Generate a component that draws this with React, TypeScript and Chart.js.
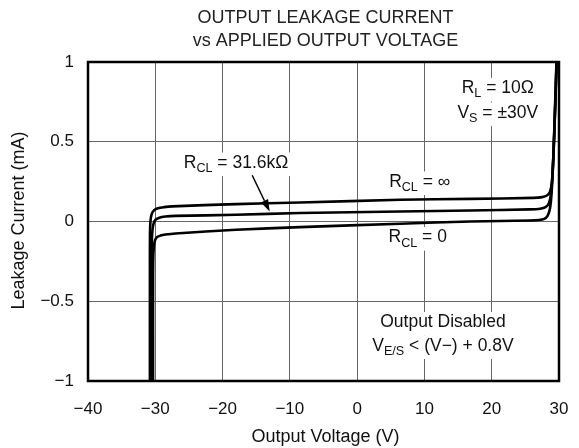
import React, { useEffect, useRef } from "react";
import { Chart, registerables } from "chart.js";

Chart.register(...registerables);

// ---- data ----
const titleLines = ["OUTPUT LEAKAGE CURRENT", "vs APPLIED OUTPUT VOLTAGE"];
const xTitle = "Output Voltage (V)";
const yTitle = "Leakage Current (mA)";

// R_CL = ∞ (top curve)
const vInf = [-30.8, -30.8, -30.79, -30.72, -30.55, -30.2, -29.6, -28.7, -27.5, -18, -8.5, 6.4, 16.8, 26.2, 27.5, 28.2, 28.65, 28.95, 29.2, 29.45, 29.65];
const iInf = [-1, -0.3, -0.08, 0.0, 0.045, 0.07, 0.083, 0.09, 0.095, 0.109, 0.119, 0.136, 0.142, 0.148, 0.153, 0.163, 0.185, 0.25, 0.45, 0.75, 1];

// R_CL = 31.6kΩ (middle curve)
const v316k = [-30.56, -30.56, -30.54, -30.47, -30.3, -30.0, -29.4, -28.5, -27, -18, -8.5, 6.4, 16.8, 25.7, 27.2, 28.0, 28.5, 28.8, 29.05, 29.3, 29.5, 29.65];
const i316k = [-1, -0.4, -0.18, -0.08, -0.02, 0.01, 0.024, 0.031, 0.035, 0.042, 0.053, 0.063, 0.069, 0.076, 0.08, 0.09, 0.115, 0.17, 0.3, 0.55, 0.8, 1];

// R_CL = 0 (bottom curve)
const vZero = [-30.33, -30.33, -30.28, -30.12, -29.8, -29.2, -28.5, -27, -18, -8.5, 6.4, 16.8, 25.7, 27.0, 27.8, 28.3, 28.65, 28.9, 29.15, 29.4, 29.62];
const iZero = [-1, -0.35, -0.2, -0.13, -0.1, -0.088, -0.082, -0.075, -0.052, -0.035, -0.014, 0.0, 0.006, 0.009, 0.016, 0.035, 0.08, 0.18, 0.4, 0.7, 1];

const xTicks = [-40, -30, -20, -10, 0, 10, 20, 30];
const yTicks = [-1, -0.5, 0, 0.5, 1];

type Seg = { t: string; sub?: boolean };
// annotation texts anchored in data units [V, mA]
const notes: { segs: Seg[]; at: [number, number]; bg: boolean }[] = [
  { segs: [{ t: "R" }, { t: "L", sub: true }, { t: " = 10Ω" }], at: [20.9, 0.835], bg: true },
  { segs: [{ t: "V" }, { t: "S", sub: true }, { t: " = ±30V" }], at: [20.9, 0.68], bg: true },
  { segs: [{ t: "R" }, { t: "CL", sub: true }, { t: " = 31.6kΩ" }], at: [-18.0, 0.367], bg: true },
  { segs: [{ t: "R" }, { t: "CL", sub: true }, { t: " = ∞" }], at: [9.3, 0.248], bg: true },
  { segs: [{ t: "R" }, { t: "CL", sub: true }, { t: " = 0" }], at: [9.0, -0.1], bg: true },
  { segs: [{ t: "Output Disabled" }], at: [12.75, -0.633], bg: true },
  { segs: [{ t: "V" }, { t: "E/S", sub: true }, { t: " < (V−) + 0.8V" }], at: [12.75, -0.78], bg: true },
];
const arrowFrom: [number, number] = [-15.6, 0.29];
const arrowTo: [number, number] = [-13.0, 0.062];

const FONT = "Liberation Sans, Arial, Helvetica, sans-serif";
const FS = 17.5; // annotations
const TICK_FS = 17;
const TITLE_FS = 18;

const fmt = (v: number) => (v < 0 ? "\u2212" + String(Math.abs(v)) : String(v));

function measureRich(ctx: CanvasRenderingContext2D, segs: Seg[]) {
  let w = 0;
  for (const s of segs) {
    ctx.font = `${s.sub ? FS * 0.72 : FS}px ${FONT}`;
    w += ctx.measureText(s.t).width;
  }
  return w;
}

function drawRich(ctx: CanvasRenderingContext2D, segs: Seg[], cx: number, cy: number, bg: boolean) {
  const w = measureRich(ctx, segs);
  let x = cx - w / 2;
  if (bg) {
    ctx.fillStyle = "#fff";
    ctx.fillRect(x - 3, cy - FS * 0.6, w + 6, FS * 1.35);
  }
  ctx.fillStyle = "#111";
  ctx.textBaseline = "middle";
  ctx.textAlign = "left";
  for (const s of segs) {
    ctx.font = `${s.sub ? FS * 0.72 : FS}px ${FONT}`;
    ctx.fillText(s.t, x, s.sub ? cy + FS * 0.32 : cy);
    x += ctx.measureText(s.t).width;
  }
}

const pts = (vs: number[], is: number[]) => vs.map((v, k) => ({ x: v, y: is[k] }));

export default function App() {
  const ref = useRef<HTMLCanvasElement>(null);
  useEffect(() => {
    document.body.style.margin = "0";
    const canvas = ref.current!;
    const deco = {
      id: "deco",
      beforeDatasetsDraw(chart: any) {
        const { ctx, scales } = chart;
        const xs = scales.x, ys = scales.y;
        ctx.save();
        for (const n of notes) {
          drawRich(ctx, n.segs, xs.getPixelForValue(n.at[0]), ys.getPixelForValue(n.at[1]), n.bg);
        }
        ctx.restore();
      },
      afterDatasetsDraw(chart: any) {
        const { ctx, scales, chartArea: a } = chart;
        const xs = scales.x, ys = scales.y;
        ctx.save();
        // arrow
        const x1 = xs.getPixelForValue(arrowFrom[0]), y1 = ys.getPixelForValue(arrowFrom[1]);
        const x2 = xs.getPixelForValue(arrowTo[0]), y2 = ys.getPixelForValue(arrowTo[1]);
        const ang = Math.atan2(y2 - y1, x2 - x1);
        const hl = 12, hw = 4;
        ctx.strokeStyle = "#000";
        ctx.lineWidth = 1.5;
        ctx.beginPath();
        ctx.moveTo(x1, y1);
        ctx.lineTo(x2 - Math.cos(ang) * hl, y2 - Math.sin(ang) * hl);
        ctx.stroke();
        ctx.fillStyle = "#000";
        ctx.beginPath();
        ctx.moveTo(x2, y2);
        ctx.lineTo(x2 - Math.cos(ang) * hl - Math.sin(ang) * hw, y2 - Math.sin(ang) * hl + Math.cos(ang) * hw);
        ctx.lineTo(x2 - Math.cos(ang) * hl + Math.sin(ang) * hw, y2 - Math.sin(ang) * hl - Math.cos(ang) * hw);
        ctx.closePath();
        ctx.fill();
        // frame
        ctx.lineWidth = 2.5;
        ctx.strokeRect(a.left, a.top, a.right - a.left, a.bottom - a.top);
        // titles
        ctx.fillStyle = "#222";
        ctx.textAlign = "center";
        ctx.textBaseline = "middle";
        ctx.font = `${TITLE_FS}px ${FONT}`;
        const cx = (a.left + a.right) / 2;
        ctx.fillText(titleLines[0], cx + 2, 18);
        ctx.fillText(titleLines[1], cx + 2, 41);
        ctx.fillStyle = "#111";
        ctx.fillText(xTitle, cx + 2, 437);
        ctx.translate(19, (a.top + a.bottom) / 2 - 1);
        ctx.rotate(-Math.PI / 2);
        ctx.fillText(yTitle, 0, 0);
        ctx.restore();
      },
    };
    const lineDs = (label: string, data: any) => ({
      label,
      data,
      borderColor: "#000",
      borderWidth: 2.6,
      pointRadius: 0,
      tension: 0.3,
      fill: false,
    });
    const chart = new Chart(canvas, {
      type: "scatter",
      data: {
        datasets: [
          lineDs("R_CL = ∞", pts(vInf, iInf)),
          lineDs("R_CL = 31.6kΩ", pts(v316k, i316k)),
          lineDs("R_CL = 0", pts(vZero, iZero)),
        ].map((d) => ({ ...d, showLine: true })),
      },
      options: {
        animation: false,
        responsive: false,
        devicePixelRatio: 1,
        layout: { padding: { top: 62, right: 20, left: 0, bottom: 0 } },
        plugins: { legend: { display: false }, tooltip: { enabled: false }, title: { display: false } },
        scales: {
          x: {
            type: "linear",
            min: -40,
            max: 30,
            afterBuildTicks: (s: any) => { s.ticks = xTicks.map((v) => ({ value: v })); },
            afterFit: (s: any) => { s.height = 67; s.paddingRight = 0; s.paddingLeft = 0; },
            grid: { color: "#666", lineWidth: 1, drawTicks: false },
            border: { display: false },
            ticks: {
              padding: 18,
              color: "#111",
              font: { family: FONT, size: TICK_FS },
              callback: (v: any) => fmt(Number(v)),
            },
          },
          y: {
            type: "linear",
            min: -1,
            max: 1,
            afterBuildTicks: (s: any) => { s.ticks = yTicks.map((v) => ({ value: v })); },
            afterFit: (s: any) => { s.width = 88; s.paddingTop = 0; s.paddingBottom = 0; },
            grid: { color: "#666", lineWidth: 1, drawTicks: false },
            border: { display: false },
            ticks: {
              padding: 14,
              color: "#111",
              font: { family: FONT, size: TICK_FS },
              callback: (v: any) => fmt(Number(v)),
            },
          },
        },
      },
      plugins: [deco],
    } as any);
    return () => chart.destroy();
  }, []);
  return <canvas ref={ref} width={579} height={448} style={{ display: "block" }} />;
}
